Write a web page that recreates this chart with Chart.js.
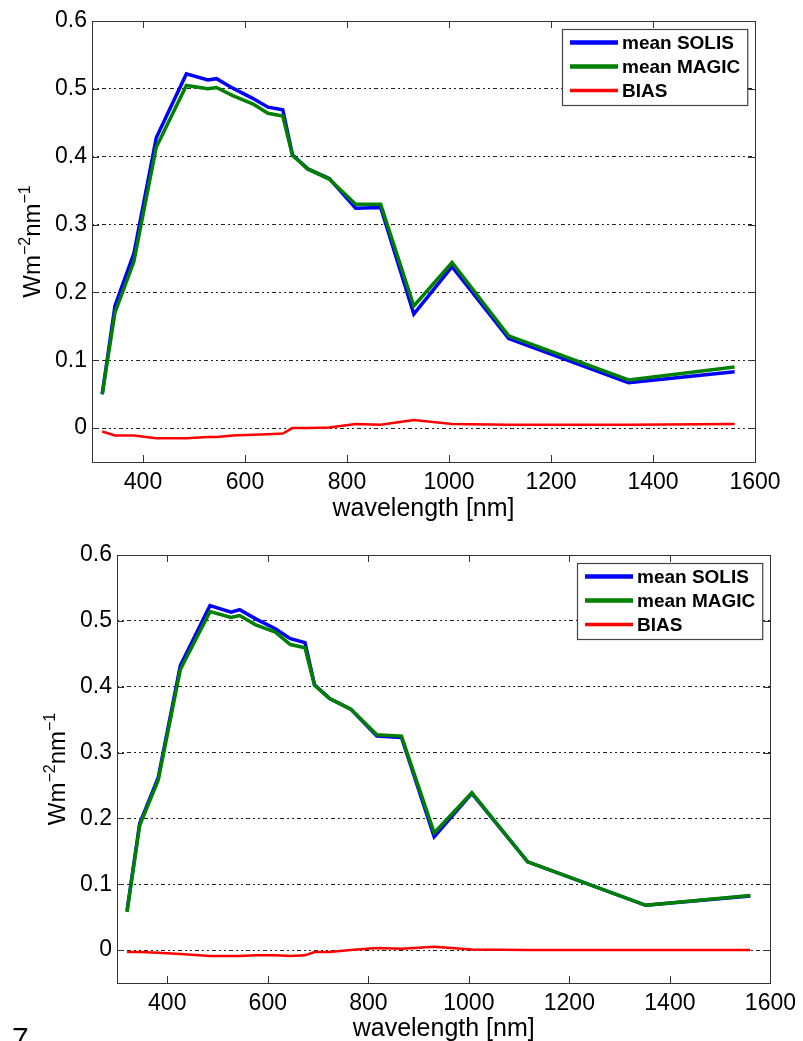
<!DOCTYPE html>
<html>
<head>
<meta charset="utf-8">
<script src="https://cdn.jsdelivr.net/npm/chart.js@4.4.1/dist/chart.umd.min.js"></script>
<style>
  html, body { margin: 0; padding: 0; background: #fff; }
  body { width: 803px; height: 1041px; overflow: hidden; position: relative; font-family: "Liberation Sans", Arial, sans-serif; }
  #c1 { position: absolute; left: 0; top: 0; }
  #c2 { position: absolute; left: 0; top: 530px; }
  #pg { position: absolute; left: 12px; top: 1023px; font-size: 30px; line-height: 30px; color: #000; }
</style>
</head>
<body>
<canvas id="c1" width="803" height="530"></canvas>
<canvas id="c2" width="803" height="511"></canvas>
<div id="pg">7</div>
<script>
// ---- data ----
const wavelength = [320, 345, 382, 426, 485, 527, 544, 576, 615, 645, 674, 693, 723, 765, 817, 866, 931, 1006, 1117, 1352, 1560];

const solisTop = [0.050, 0.180, 0.257, 0.428, 0.522, 0.513, 0.515, 0.501, 0.486, 0.473, 0.469, 0.403, 0.382, 0.368, 0.324, 0.325, 0.168, 0.238, 0.132, 0.067, 0.083];
const magicTop = [0.050, 0.170, 0.245, 0.414, 0.505, 0.500, 0.502, 0.490, 0.478, 0.464, 0.460, 0.402, 0.382, 0.367, 0.330, 0.330, 0.180, 0.244, 0.136, 0.071, 0.090];
const biasTop  = [-0.005, -0.011, -0.011, -0.015, -0.015, -0.013, -0.013, -0.011, -0.010, -0.009, -0.008, 0.000, 0.000, 0.001, 0.006, 0.005, 0.012, 0.006, 0.005, 0.005, 0.006];

const solisBottom = [0.060, 0.192, 0.262, 0.432, 0.523, 0.513, 0.517, 0.503, 0.488, 0.473, 0.467, 0.403, 0.382, 0.366, 0.325, 0.323, 0.172, 0.238, 0.134, 0.068, 0.082];
const magicBottom = [0.058, 0.189, 0.258, 0.426, 0.514, 0.505, 0.508, 0.494, 0.483, 0.464, 0.459, 0.402, 0.382, 0.366, 0.327, 0.325, 0.178, 0.239, 0.134, 0.068, 0.083];
const biasBottom  = [-0.003, -0.003, -0.004, -0.006, -0.009, -0.009, -0.009, -0.008, -0.008, -0.009, -0.008, -0.003, -0.003, 0.000, 0.003, 0.002, 0.005, 0.001, 0.000, 0.000, 0.000];

const seriesNames = ["mean SOLIS", "mean MAGIC", "BIAS"];
const xTickValues = [400, 600, 800, 1000, 1200, 1400, 1600];
const yTickValues = [0, 0.1, 0.2, 0.3, 0.4, 0.5, 0.6];
const xTitleText = "wavelength [nm]";
const yTitleParts = [["Wm", false], ["\u22122", true], ["nm", false], ["\u22121", true]];

// ---- styling ----
const FAMILY = "'Liberation Sans', Arial, Helvetica, sans-serif";
const colors = ["#0000ff", "#008000", "#ff0000"];
const widths = [3.5, 3.5, 2.5];
const legendWidths = [4.5, 4.5, 3.5];

const decorPlugin = {
  id: 'decor',
  afterDraw(chart, args, o) {
    const ctx = chart.ctx;
    const a = chart.chartArea;
    const xs = chart.scales.x, ys = chart.scales.y;
    ctx.save();
    // frame
    ctx.strokeStyle = '#333';
    ctx.lineWidth = 1;
    ctx.setLineDash([]);
    ctx.strokeRect(Math.round(a.left) + 0.5, Math.round(a.top) + 0.5, Math.round(a.right - a.left), Math.round(a.bottom - a.top));
    // inward ticks
    const tl = 7;
    ctx.beginPath();
    xTickValues.forEach(v => {
      const p = Math.round(xs.getPixelForValue(v)) + 0.5;
      ctx.moveTo(p, a.bottom); ctx.lineTo(p, a.bottom - tl);
      ctx.moveTo(p, a.top); ctx.lineTo(p, a.top + tl);
    });
    yTickValues.forEach(v => {
      const p = Math.round(ys.getPixelForValue(v)) + 0.5;
      ctx.moveTo(a.left, p); ctx.lineTo(a.left + tl, p);
      ctx.moveTo(a.right, p); ctx.lineTo(a.right - tl, p);
    });
    ctx.stroke();

    // x title
    ctx.fillStyle = '#000';
    ctx.font = `25px ${FAMILY}`;
    ctx.textAlign = 'center';
    ctx.textBaseline = 'alphabetic';
    ctx.fillText(xTitleText, (a.left + a.right) / 2, o.xTitleBase);

    // y title with superscripts
    const mainF = `24px ${FAMILY}`, supF = `16px ${FAMILY}`;
    let total = 0;
    yTitleParts.forEach(([t, sup]) => { ctx.font = sup ? supF : mainF; total += ctx.measureText(t).width; });
    ctx.translate(o.yTitleX, (a.top + a.bottom) / 2);
    ctx.rotate(-Math.PI / 2);
    ctx.textAlign = 'left';
    let x = -total / 2;
    yTitleParts.forEach(([t, sup]) => {
      ctx.font = sup ? supF : mainF;
      ctx.fillText(t, x, sup ? -10 : 0);
      x += ctx.measureText(t).width;
    });
    ctx.setTransform(1, 0, 0, 1, 0, 0);

    // legend box
    ctx.font = `bold 19px ${FAMILY}`;
    let maxW = 0;
    chart.data.datasets.forEach(d => { maxW = Math.max(maxW, ctx.measureText(d.label).width); });
    const bw = 8 + 48 + 4 + maxW + 7, rowH = 24, bh = rowH * 3 + 4;
    const bx = Math.round(a.right - 8 - bw), by = Math.round(a.top + 8);
    ctx.fillStyle = '#fff';
    ctx.fillRect(bx, by, bw, bh);
    ctx.strokeStyle = '#444';
    ctx.lineWidth = 1.2;
    ctx.strokeRect(bx + 0.5, by + 0.5, bw, bh);
    ctx.textAlign = 'left';
    ctx.textBaseline = 'middle';
    chart.data.datasets.forEach((d, i) => {
      const yy = by + 13.5 + i * rowH;
      ctx.strokeStyle = d.borderColor;
      ctx.lineWidth = legendWidths[i];
      ctx.beginPath();
      ctx.moveTo(bx + 8, yy); ctx.lineTo(bx + 56, yy);
      ctx.stroke();
      ctx.fillStyle = '#000';
      ctx.fillText(d.label, bx + 60, yy + 1);
    });
    ctx.restore();
  }
};

function makeChart(id, series, g) {
  const datasets = series.map((arr, i) => ({
    label: seriesNames[i],
    data: wavelength.map((w, k) => ({ x: w, y: arr[k] })),
    borderColor: colors[i],
    backgroundColor: colors[i],
    borderWidth: widths[i],
    pointRadius: 0,
    tension: 0,
    fill: false,
    order: 3 - i
  }));
  const tickFont = { family: FAMILY, size: 23 };
  return new Chart(document.getElementById(id), {
    type: 'line',
    data: { datasets },
    plugins: [decorPlugin],
    options: {
      responsive: false,
      animation: false,
      events: [],
      layout: { padding: { left: 0, top: g.top, right: g.right, bottom: 0 } },
      plugins: { legend: { display: false }, tooltip: { enabled: false }, decor: { xTitleBase: g.xTitleBase, yTitleX: g.yTitleX } },
      scales: {
        x: {
          type: 'linear', min: 300, max: 1600,
          afterBuildTicks: s => { s.ticks = xTickValues.map(v => ({ value: v })); },
          afterFit: s => { s.height = g.bottomH; },
          grid: { display: false, drawTicks: false },
          border: { display: false },
          ticks: { color: '#000', font: tickFont, padding: 7, maxRotation: 0, autoSkip: false, callback: v => String(v) }
        },
        y: {
          type: 'linear', min: -0.05, max: 0.6,
          afterBuildTicks: s => { s.ticks = yTickValues.map(v => ({ value: v })); },
          afterFit: s => { s.width = g.left; },
          grid: { display: true, color: '#222', lineWidth: 1, drawTicks: false },
          border: { display: false, dash: [2, 3, 2, 3, 4, 3] },
          ticks: { color: '#000', font: tickFont, padding: 5, callback: v => String(v) }
        }
      }
    }
  });
}

makeChart('c1', [solisTop, magicTop, biasTop], { left: 92, top: 21, right: 48, bottomH: 68, yTitleX: 40, xTitleBase: 516 });
makeChart('c2', [solisBottom, magicBottom, biasBottom], { left: 117, top: 25, right: 30, bottomH: 58, yTitleX: 65, xTitleBase: 506 });
</script>
</body>
</html>
